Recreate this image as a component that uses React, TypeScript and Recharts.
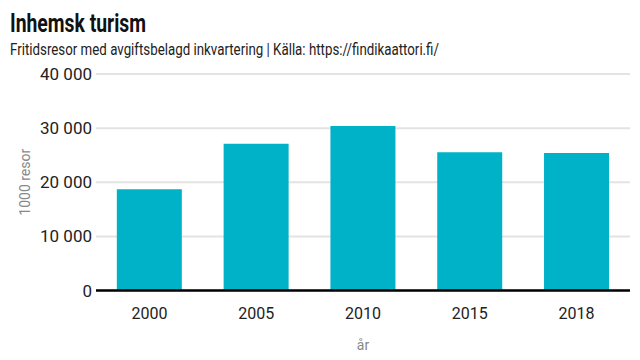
import React from 'react';
import { BarChart, Bar, XAxis, YAxis, CartesianGrid, ReferenceLine } from 'recharts';

const years = ['2000', '2005', '2010', '2015', '2018'];
const trips = [18700, 27100, 30400, 25550, 25400];
const yTicks = [0, 10000, 20000, 30000, 40000];

const data = years.map((y, i) => ({ year: y, value: trips[i] }));

const FONT = '"Roboto", sans-serif';
const fmt = (v: number) => (v === 0 ? '0' : String(v).replace(/\B(?=(\d{3})+(?!\d))/g, ' '));

export default function App() {
  return (
    <div style={{ position: 'absolute', left: 0, top: 0, width: 640, height: 360, fontFamily: FONT, background: '#fff' }}>
      <svg width={640} height={60} style={{ position: 'absolute', left: 0, top: 0 }}>
        <text x={10} y={32} fontSize={25} fontWeight={700} fill="#111" fontFamily={FONT} textLength={136} lengthAdjust="spacingAndGlyphs">Inhemsk turism</text>
        <text x={10} y={55} fontSize={16.5} fill="#222" fontFamily={FONT} textLength={429} lengthAdjust="spacingAndGlyphs">Fritidsresor med avgiftsbelagd inkvartering | Källa: https://findikaattori.fi/</text>
      </svg>
      <div style={{ position: 'absolute', left: 0, top: 0 }}>
        <BarChart width={640} height={360} data={data} margin={{ top: 74, right: 10, bottom: 19.5, left: 0 }} barCategoryGap="19.5%">
          <CartesianGrid vertical={false} stroke="#e3e3e3" strokeWidth={2} />
          <XAxis
            dataKey="year"
            axisLine={false}
            tickLine={false}
            tickSize={0}
            tickMargin={17}
            height={50}
            tick={{ fill: '#222', fontSize: 16, fontFamily: FONT }}
            label={{ value: 'år', position: 'insideBottom', offset: -9, fill: '#888', fontSize: 14, fontFamily: FONT }}
          />
          <YAxis
            domain={[0, 40000]}
            ticks={yTicks}
            tickFormatter={fmt}
            axisLine={false}
            tickLine={false}
            tickSize={0}
            tickMargin={4}
            width={96}
            interval={0}
            tick={{ fill: '#222', fontSize: 17, fontFamily: FONT }}
            label={{ value: '1000 resor', angle: -90, position: 'insideLeft', offset: 25, fill: '#888', fontSize: 14, fontFamily: FONT, style: { textAnchor: 'middle' } }}
          />
          <Bar dataKey="value" fill="#00B2C8" isAnimationActive={false} />
          <ReferenceLine y={0} stroke="#000" strokeWidth={2.5} />
        </BarChart>
      </div>
    </div>
  );
}
